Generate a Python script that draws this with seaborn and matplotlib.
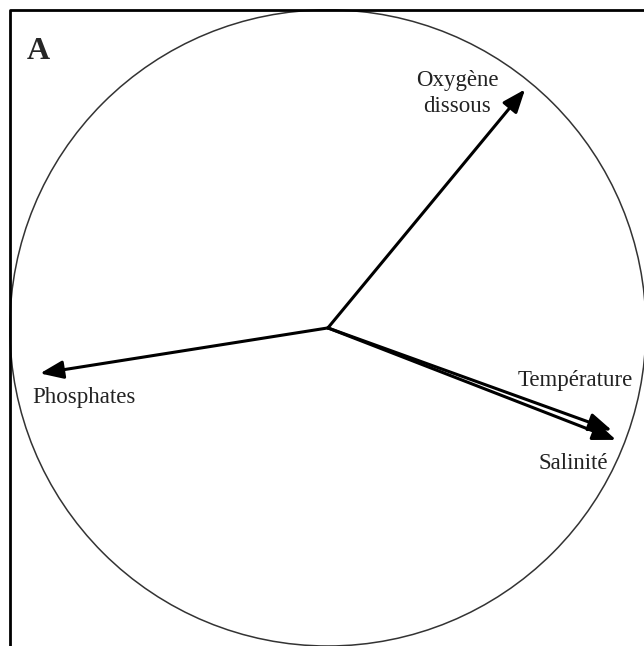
import matplotlib
matplotlib.use("Agg")
import matplotlib.pyplot as plt
from matplotlib.patches import Circle
import seaborn as sns
import pandas as pd

# loadings read from the correlation circle (unit radius)
variables = ["Oxygène dissous", "Phosphates", "Température", "Salinité"]
axis1 = [0.62, -0.905, 0.893, 0.906]
axis2 = [0.75, -0.143, -0.322, -0.352]

labels = ["Oxygène\ndissous", "Phosphates", "Température", "Salinité"]
label_x = [0.406, -0.931, 0.597, 0.770]
label_y = [0.737, -0.22, -0.164, -0.425]
label_ha = ["center", "left", "left", "center"]

df = pd.DataFrame({"variable": variables, "x": axis1, "y": axis2})

sns.set_style("white")
plt.rcParams["font.family"] = ["Liberation Serif", "DejaVu Serif"]

fig = plt.figure(figsize=(6.44, 6.46), dpi=100)
ax = fig.add_axes([0, 0, 1, 1])
ax.set_xlim(-1.031, 0.994)
ax.set_ylim(-1.0, 1.031)
ax.set_aspect("auto")
ax.axis("off")

# frame and correlation circle
ax.plot([-0.9995, -0.9995, 1.2], [-1.2, 0.9995, 0.9995], color="black", lw=2)
ax.add_patch(Circle((0, 0), 1.0, fill=False, edgecolor="#333333", lw=1.1))

for _, row in df.iterrows():
    ax.annotate("", xy=(row["x"], row["y"]), xytext=(0, 0),
                arrowprops=dict(arrowstyle="-|>,head_length=1.4,head_width=0.55",
                                color="black", lw=2.2, shrinkA=0, shrinkB=0))

for lab, x, y, ha in zip(labels, label_x, label_y, label_ha):
    ax.text(x, y, lab, ha=ha, va="center", fontsize=16.5, color="#222222",
            linespacing=1.3)

ax.text(-0.947, 0.846, "A", fontsize=23, fontweight="bold", ha="left", va="baseline")

fig.savefig("out.png", dpi=100)
